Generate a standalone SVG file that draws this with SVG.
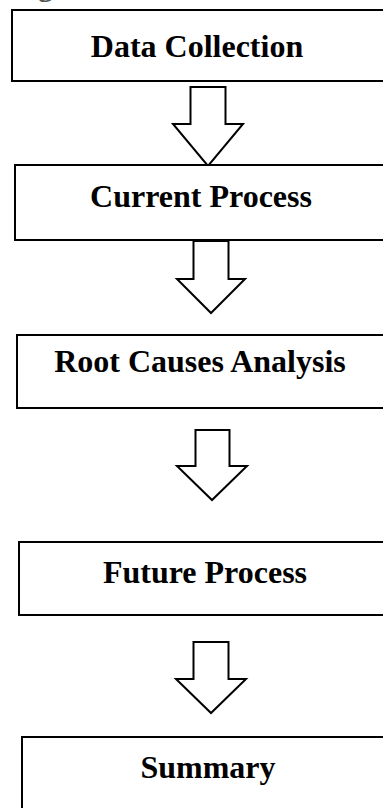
<svg xmlns="http://www.w3.org/2000/svg" width="383" height="808" viewBox="0 0 383 808">
<style>
.box{fill:#fff;stroke:#000;stroke-width:2}
.arr{fill:#fff;stroke:#000;stroke-width:2;stroke-linejoin:miter}
.lbl{font-family:"Liberation Serif","Times New Roman",serif;font-weight:bold;font-size:32px;fill:#000;text-anchor:middle}
</style>
<rect width="383" height="808" fill="#fff"/>
<text x="38" y="-4" font-family="Liberation Serif, serif" font-weight="bold" font-size="30" fill="#555">g</text>
<g id="connectors">
<polygon class="arr" points="190.5,87 225.5,87 225.5,124 243,124 208,166 173,124 190.5,124"/>
<polygon class="arr" points="193.5,241 228.5,241 228.5,279 245,279 211,313 177,279 193.5,279"/>
<polygon class="arr" points="195.5,430 229.5,430 229.5,466 247,466 212,500 177,466 195.5,466"/>
<polygon class="arr" points="193.5,642 228.5,642 228.5,679 246,679 211,713 176,679 193.5,679"/>
</g>
<g id="n1"><rect class="box" x="12" y="10" width="400" height="71"/><text class="lbl" x="197" y="57">Data Collection</text></g>
<g id="n2"><rect class="box" x="15" y="165" width="400" height="75"/><text class="lbl" x="201" y="207">Current Process</text></g>
<g id="n3"><rect class="box" x="17" y="335" width="400" height="73"/><text class="lbl" x="200" y="372">Root Causes Analysis</text></g>
<g id="n4"><rect class="box" x="19" y="542" width="400" height="73"/><text class="lbl" x="205" y="583">Future Process</text></g>
<g id="n5"><rect class="box" x="22" y="737" width="400" height="100"/><text class="lbl" x="208" y="778">Summary</text></g>
</svg>
